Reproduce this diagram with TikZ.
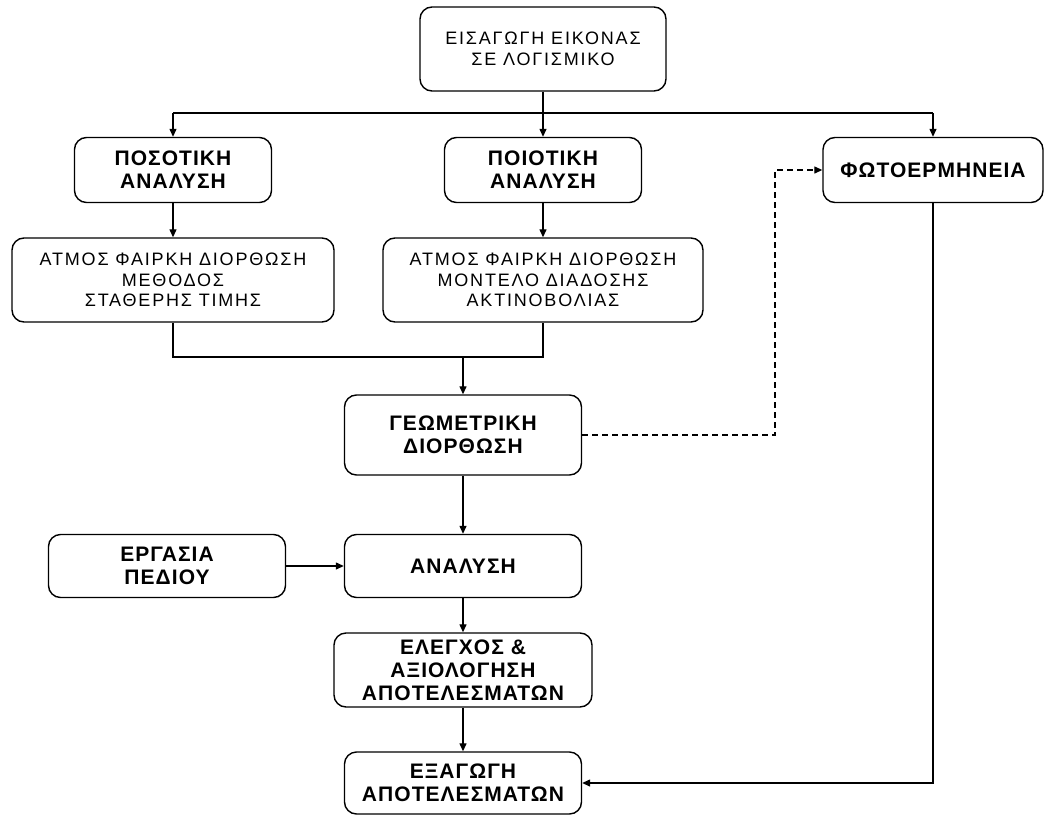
\documentclass[tikz,border=0pt]{standalone}
\usepackage{fontspec}
\usepackage{tikz}
\usetikzlibrary{arrows.meta}
\newfontfamily\plainfont[LetterSpace=10.0]{Liberation Sans}
\newfontfamily\heavyfont[LetterSpace=5.0]{Liberation Sans}

\begin{document}
\begin{tikzpicture}[
            x=1pt, y=-1pt,
            every node/.style={draw, line width=1.4pt, rectangle, rounded corners=12pt, align=center, inner sep=2pt},
            plainbox/.style={font=\plainfont\fontsize{18}{20.5}\selectfont},
            heavybox/.style={font=\heavyfont\bfseries\fontsize{21}{23}\selectfont},
            arr/.style={line width=1.3pt, -{Triangle[length=8pt, width=7pt]}},
            wire/.style={line width=1.3pt}
        ]
        \useasboundingbox (0,0) rectangle (1044,816);
        % Input node
        \node[plainbox, minimum width=246pt, minimum height=84pt] (input) at (543,49) {ΕΙΣΑΓΩΓΗ ΕΙΚΟΝΑΣ\\ΣΕ ΛΟΓΙΣΜΙΚΟ};
        % Level 1: analysis branches
        \node[heavybox, minimum width=197pt, minimum height=65pt] (quant) at (173,170) {ΠΟΣΟΤΙΚΗ\\ΑΝΑΛΥΣΗ};
        \node[heavybox, minimum width=197pt, minimum height=65pt] (qual) at (543,170) {ΠΟΙΟΤΙΚΗ\\ΑΝΑΛΥΣΗ};
        \node[heavybox, minimum width=220pt, minimum height=65pt] (photo) at (933,170) {ΦΩΤΟΕΡΜΗΝΕΙΑ};
        % Level 2: atmospheric correction
        \node[plainbox, minimum width=322pt, minimum height=84pt] (atmleft) at (173,280) {ΑΤΜΟΣ ΦΑΙΡΚΗ ΔΙΟΡΘΩΣΗ\\ΜΕΘΟΔΟΣ\\ΣΤΑΘΕΡΗΣ ΤΙΜΗΣ};
        \node[plainbox, minimum width=320pt, minimum height=84pt] (atmright) at (543,280) {ΑΤΜΟΣ ΦΑΙΡΚΗ ΔΙΟΡΘΩΣΗ\\ΜΟΝΤΕΛΟ ΔΙΑΔΟΣΗΣ\\ΑΚΤΙΝΟΒΟΛΙΑΣ};
        % Level 3: geometry and analysis
        \node[heavybox, minimum width=237pt, minimum height=80pt] (geom) at (463,435) {ΓΕΩΜΕΤΡΙΚΗ\\ΔΙΟΡΘΩΣΗ};
        \node[heavybox, minimum width=237pt, minimum height=63pt] (field) at (167,566) {ΕΡΓΑΣΙΑ\\ΠΕΔΙΟΥ};
        \node[heavybox, minimum width=237pt, minimum height=63pt] (analysis) at (463,566) {ΑΝΑΛΥΣΗ};
        \node[heavybox, minimum width=258pt, minimum height=74pt] (check) at (463,670) {ΕΛΕΓΧΟΣ \&\\ΑΞΙΟΛΟΓΗΣΗ\\ΑΠΟΤΕΛΕΣΜΑΤΩΝ};
        \node[heavybox, minimum width=237pt, minimum height=62pt] (export) at (463,783) {ΕΞΑΓΩΓΗ\\ΑΠΟΤΕΛΕΣΜΑΤΩΝ};

        % Connectors
        \coordinate (busleft) at (173,113);
        \coordinate (busright) at (933,113);
        \coordinate (merge) at (463,357);
        \coordinate (dashbend) at (775,435);
        \draw[wire] (busleft) -- (busright);
        \draw[arr] (input.south) -- (qual.north);
        \draw[arr] (busleft) -- (quant.north);
        \draw[arr] (busright) -- (photo.north);
        \draw[arr] (quant) -- (atmleft);
        \draw[arr] (qual) -- (atmright);
        \draw[wire] (atmleft.south) |- (merge) -| (atmright.south);
        \draw[arr] (merge) -- (geom.north);
        \draw[arr, dashed, dash pattern=on 6pt off 4pt] (geom.east) -- (dashbend) |- (photo.west);
        \draw[arr] (geom) -- (analysis);
        \draw[arr] (field) -- (analysis);
        \draw[arr] (analysis) -- (check);
        \draw[arr] (check) -- (export);
        \draw[arr] (photo.south) |- (export.east);
    \end{tikzpicture}
\end{document}
